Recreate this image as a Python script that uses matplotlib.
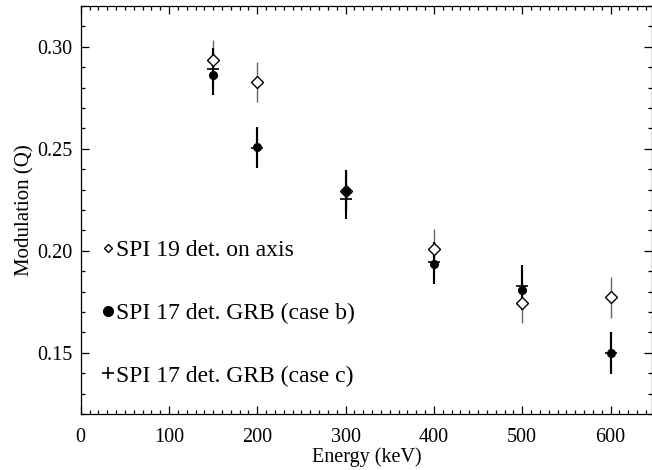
import numpy as np
import matplotlib
matplotlib.use("Agg")
import matplotlib.pyplot as plt
from matplotlib.ticker import MultipleLocator

# energies (keV)
energy = [150, 200, 300, 400, 500, 600]

# SPI 19 det. on axis (open diamonds)
q_axis = [0.2934, 0.2828, 0.2294, 0.2009, 0.1746, 0.1772]
err_axis = [0.010, 0.010, 0.010, 0.010, 0.010, 0.010]

# SPI 17 det. GRB case b (filled circles)
q_caseb = [0.2864, 0.2507, 0.2295, 0.1936, 0.1808, 0.1497]
err_caseb = [0.010, 0.010, 0.010, 0.010, 0.010, 0.010]

# SPI 17 det. GRB case c (plus)
q_casec = [0.2892, 0.2505, 0.2255, 0.1945, 0.1829, 0.1500]
err_casec = [0.010, 0.010, 0.010, 0.010, 0.010, 0.010]

plt.rcParams['font.family'] = ['Liberation Serif', 'DejaVu Serif']

fig = plt.figure(figsize=(6.52, 4.70), dpi=100)
ax = fig.add_axes([0.1238, 0.1191, 0.8762, 0.868])

ax.errorbar(energy, q_axis, yerr=err_axis, fmt='none', ecolor='#666666', elinewidth=1.0, capsize=0)
ax.errorbar(energy, q_casec, yerr=err_casec, fmt='none', ecolor='black', elinewidth=1.5, capsize=0)
ax.errorbar(energy, q_caseb, yerr=err_caseb, fmt='none', ecolor='black', elinewidth=1.5, capsize=0)

h1, = ax.plot(energy, q_axis, ls='none', marker='D', ms=5.7, mfc='white', mec='black', mew=1.0,
              label='SPI 19 det. on axis')
h2, = ax.plot(energy, q_caseb, ls='none', marker='o', ms=5.5, mfc='black', mec='black',
              label='SPI 17 det. GRB (case b)')
h3, = ax.plot(energy, q_casec, ls='none', marker='_', ms=8, mec='black', mew=1.2,
              label='SPI 17 det. GRB (case c)')

# legend proxies (small symbols like in the figure)
p1, = ax.plot([], [], ls='none', marker='D', ms=4.2, mfc='white', mec='black', mew=1.0)
p2, = ax.plot([], [], ls='none', marker='o', ms=7, mfc='black', mec='black')
p3, = ax.plot([], [], ls='none', marker='+', ms=8, mec='black', mew=1.2)
ax.legend([p1, p2, p3], [h1.get_label(), h2.get_label(), h3.get_label()],
          loc='lower left', bbox_to_anchor=(0.0373, 0.067), frameon=False, fontsize=17,
          handlelength=0.5, handletextpad=0.1, labelspacing=1.75, borderaxespad=0, borderpad=0)

ax.set_xlim(0, 647)
ax.set_ylim(0.12, 0.32)
ax.xaxis.set_major_locator(MultipleLocator(100))
ax.xaxis.set_minor_locator(MultipleLocator(10))
ax.yaxis.set_major_locator(MultipleLocator(0.05))
ax.yaxis.set_minor_locator(MultipleLocator(0.01))
ax.yaxis.set_major_formatter(plt.FormatStrFormatter('%.2f'))
ax.tick_params(which='both', direction='in', top=True, right=True, labelsize=14.5, width=0.9)
ax.tick_params(which='major', length=6)
ax.tick_params(which='minor', length=3)
ax.tick_params(axis='x', which='major', pad=10)
ax.tick_params(axis='y', which='major', pad=6)
for s in ax.spines.values():
    s.set_linewidth(0.9)

ax.set_xlabel('Energy (keV)', fontsize=14.5, labelpad=0)
ax.set_ylabel('Modulation (Q)', fontsize=15, labelpad=2)

fig.savefig('out.png', dpi=100)
